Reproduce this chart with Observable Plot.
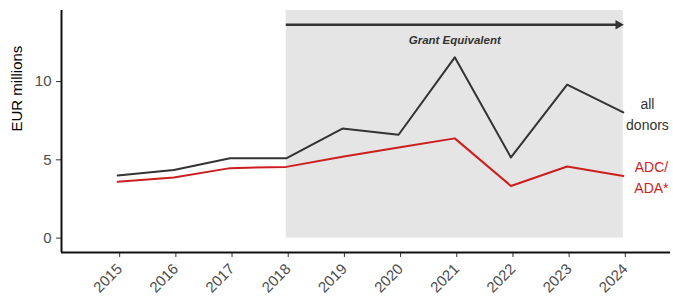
<!DOCTYPE html>
<html>
<head>
<meta charset="utf-8">
<script src="https://cdn.jsdelivr.net/npm/d3@7"></script>
<script src="https://cdn.jsdelivr.net/npm/@observablehq/plot@0.6"></script>
<style>
  html, body { margin: 0; padding: 0; background: #fff; }
  #chart { width: 673px; height: 302px; }
</style>
</head>
<body>
<div id="chart"></div>
<script>
const years = [2015, 2016, 2017, 2018, 2019, 2020, 2021, 2022, 2023, 2024];
const allDonors = [4.0, 4.35, 5.1, 5.1, 7.0, 6.6, 11.55, 5.15, 9.8, 8.03];
const adcAda = [3.6, 3.87, 4.47, 4.55, 5.19, 5.79, 6.37, 3.33, 4.57, 3.97];
const yTicks = [0, 5, 10];
const seriesNames = ["all donors", "ADC/ADA*"];
const seriesLabels = ["all\ndonors", "ADC/\nADA*"];
const shadeStart = 2018, shadeEnd = 2024;
const annotation = "Grant Equivalent";
const yTitle = "EUR millions";

const colors = {"all donors": "#333333", "ADC/ADA*": "#CC1E1E"};

const rows = [];
years.forEach((yr, i) => {
  rows.push({year: yr, value: allDonors[i], series: seriesNames[0]});
  rows.push({year: yr, value: adcAda[i], series: seriesNames[1]});
});

const xDomain = [2014, 2024.84];
const yDomain = [-0.92, 14.54];

const chart = Plot.plot({
  width: 673,
  height: 302,
  marginLeft: 61,
  marginRight: 3,
  marginTop: 10,
  marginBottom: 50,
  style: {fontFamily: "'Liberation Sans', Arial, sans-serif", background: "#fff"},
  x: {domain: xDomain},
  y: {domain: yDomain},
  marks: [
    Plot.rect([{x1: shadeStart, x2: shadeEnd}], {x1: "x1", x2: "x2", y1: 0, y2: yDomain[1], fill: "#e5e5e5"}),
    Plot.ruleY([13.63], {x1: shadeStart, x2: shadeEnd - 0.06, stroke: "#333", strokeWidth: 2.5}),
    Plot.dot([shadeEnd], {x: d => d, y: 13.63, symbol: "triangle", rotate: 90, r: 3.6, fill: "#333", stroke: "none", dx: -5}),
    Plot.text([annotation], {x: 2021, y: 12.62, text: d => d, fontWeight: "bold", fontStyle: "italic", fontSize: 11.5, fill: "#333"}),
    Plot.line(rows, {x: "year", y: "value", z: "series", stroke: d => colors[d.series], strokeWidth: 2}),
    Plot.text([0], {x: 2024.43, y: allDonors[allDonors.length - 1], text: () => seriesLabels[0], fontSize: 14, fill: "#333", lineHeight: 1.5}),
    Plot.text([0], {x: 2024.5, y: adcAda[adcAda.length - 1], text: () => seriesLabels[1], fontSize: 14, fill: colors["ADC/ADA*"], lineHeight: 1.45}),
    Plot.axisY({ticks: yTicks, tickSize: 5, tickPadding: 5, fontSize: 15, stroke: "#333", fill: "#4d4d4d", label: null}),
    Plot.axisX({ticks: years, tickFormat: d => String(d), tickSize: 5, tickPadding: 9, dx: 2, tickRotate: -45, fontSize: 15, stroke: "#333", fill: "#4d4d4d", label: null}),
    Plot.ruleX([xDomain[0]], {y1: yDomain[0], y2: yDomain[1], stroke: "#111", strokeWidth: 2}),
    Plot.ruleY([yDomain[0]], {x1: xDomain[0], x2: xDomain[1], stroke: "#111", strokeWidth: 2}),
    Plot.text([yTitle], {frameAnchor: "left", dx: -44, rotate: -90, text: d => d, fontSize: 15, fill: "#000"})
  ]
});
document.getElementById("chart").appendChild(chart);
</script>
</body>
</html>
